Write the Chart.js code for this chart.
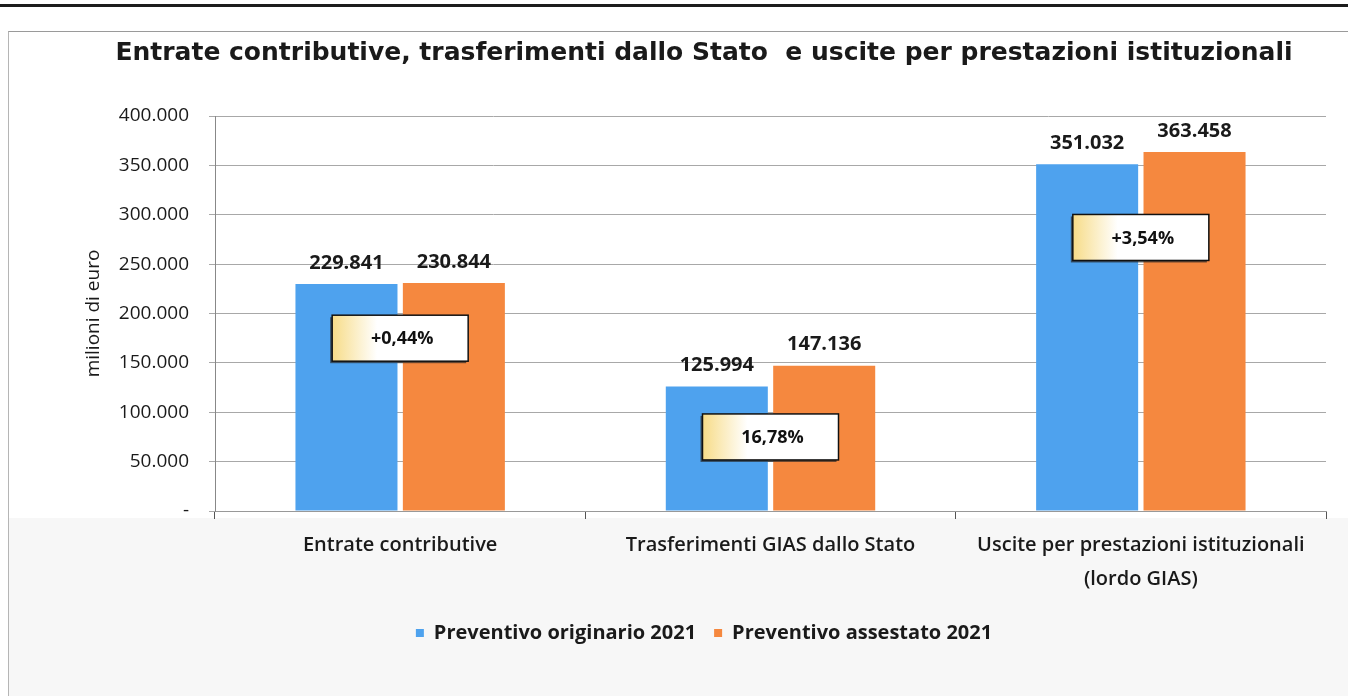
<!DOCTYPE html>
<html lang="it">
<head>
<meta charset="utf-8">
<title>Entrate contributive, trasferimenti dallo Stato e uscite per prestazioni istituzionali</title>
<script src="https://cdn.jsdelivr.net/npm/chart.js@4.4.1/dist/chart.umd.min.js"></script>
<style>
    html, body { margin: 0; padding: 0; background: #ffffff; }
    #wrap {
        position: relative;
        width: 1348px;
        height: 696px;
        overflow: hidden;
        border-top: 3px solid #1c1c1c;
        box-sizing: border-box;
        margin-top: 4px;
    }
    #frame {
        position: absolute;
        left: 8px; top: 24px; right: 0; bottom: 0;
        border-top: 1px solid #9a9a9a;
        border-left: 1px solid #b5b5b5;
        background: linear-gradient(#ffffff 0, #ffffff 486px, #f7f7f7 486px);
    }
    #chart { position: absolute; left: 0; top: -7px; }
</style>
</head>
<body>
<div id="wrap">
    <div id="frame"></div>
    <canvas id="chart" width="1348" height="696"></canvas>
</div>
<script>
// Dati (milioni di euro)
const categories = [
    'Entrate contributive',
    'Trasferimenti GIAS dallo Stato',
    ['Uscite per prestazioni istituzionali', '(lordo GIAS)']
];
const seriesNames = ['Preventivo originario 2021', 'Preventivo assestato 2021'];
const originario = [229841, 125994, 351032];
const assestato = [230844, 147136, 363458];
const variazioni = ['+0,44%', '16,78%', '+3,54%'];

const colors = ['#4ea2ee', '#f5883f'];
const fontSans = '"Open Sans", "Noto Sans", sans-serif';

function formatIt(v) {
    if (v === 0) return '-';
    return String(Math.round(v)).replace(/\B(?=(\d{3})+(?!\d))/g, '.');
}

// etichette sopra le barre
const valueLabels = {
    id: 'valueLabels',
    afterDatasetsDraw(chart) {
        const ctx = chart.ctx;
        ctx.save();
        ctx.font = 'bold 20px ' + fontSans;
        ctx.fillStyle = '#1a1a1a';
        ctx.textAlign = 'center';
        ctx.textBaseline = 'bottom';
        chart.data.datasets.forEach((ds, i) => {
            chart.getDatasetMeta(i).data.forEach((bar, j) => {
                ctx.fillText(formatIt(ds.data[j]), bar.x, bar.y - 11);
            });
        });
        ctx.restore();
    }
};

// riquadri con la variazione percentuale tra le due barre
const deltaBoxes = {
    id: 'deltaBoxes',
    afterDatasetsDraw(chart) {
        const ctx = chart.ctx;
        const yScale = chart.scales.y;
        const m0 = chart.getDatasetMeta(0).data;
        const m1 = chart.getDatasetMeta(1).data;
        // livello (in valori dell'asse) a cui il riquadro è centrato
        const anchor = [175000, 75000, 277000];
        const w = 136, h = 46;
        ctx.save();
        variazioni.forEach((txt, i) => {
            const cx = (m0[i].x + m1[i].x) / 2;
            const cy = yScale.getPixelForValue(anchor[i]);
            const x = cx - w / 2, y = cy - h / 2;
            ctx.fillStyle = 'rgba(40,40,40,0.7)';
            ctx.fillRect(x - 2, y + 2, w, h);
            const g = ctx.createLinearGradient(x, 0, x + w, 0);
            g.addColorStop(0, '#f7dc88');
            g.addColorStop(0.33, '#ffffff');
            g.addColorStop(1, '#ffffff');
            ctx.fillStyle = g;
            ctx.fillRect(x, y, w, h);
            ctx.strokeStyle = '#111';
            ctx.lineWidth = 1.5;
            ctx.strokeRect(x, y, w, h);
            ctx.font = 'bold 18px ' + fontSans;
            ctx.fillStyle = '#111';
            ctx.textAlign = 'center';
            ctx.textBaseline = 'middle';
            ctx.fillText(txt, cx + 2, cy + 1);
        });
        ctx.restore();
    }
};

new Chart(document.getElementById('chart'), {
    type: 'bar',
    data: {
        labels: categories,
        datasets: [
            {
                label: seriesNames[0],
                data: originario,
                backgroundColor: colors[0],
                categoryPercentage: 0.58,
                barPercentage: 0.95
            },
            {
                label: seriesNames[1],
                data: assestato,
                backgroundColor: colors[1],
                categoryPercentage: 0.58,
                barPercentage: 0.95
            }
        ]
    },
    options: {
        responsive: false,
        animation: false,
        layout: {
            padding: { left: 82, right: 22, top: 37, bottom: 43 }
        },
        plugins: {
            title: {
                display: true,
                text: 'Entrate contributive, trasferimenti dallo Stato  e uscite per prestazioni istituzionali',
                color: '#1a1a1a',
                font: { family: '"DejaVu Sans", Verdana, sans-serif', size: 25, weight: 'bold' },
                padding: { top: 1, bottom: 48 }
            },
            legend: {
                position: 'bottom',
                labels: {
                    boxWidth: 8,
                    boxHeight: 8,
                    padding: 18,
                    color: '#1a1a1a',
                    font: { family: fontSans, size: 20, weight: 'bold' }
                }
            },
            tooltip: { enabled: false }
        },
        scales: {
            x: {
                grid: {
                    display: true,
                    drawOnChartArea: false,
                    tickLength: 8,
                    color: '#555'
                },
                border: { color: '#999' },
                ticks: {
                    color: '#1a1a1a',
                    padding: 9,
                    font: { family: fontSans, size: 20, weight: '600', lineHeight: 1.7 }
                }
            },
            y: {
                min: 0,
                max: 400000,
                afterFit: scale => { scale.width = 133; },
                ticks: {
                    stepSize: 50000,
                    color: '#1a1a1a',
                    padding: 20,
                    font: { family: fontSans, size: 19 },
                    callback: v => formatIt(v)
                },
                grid: { color: '#a8a8a8', tickLength: 6 },
                border: { color: '#888' },
                title: {
                    display: true,
                    text: 'milioni di euro',
                    color: '#1a1a1a',
                    padding: { top: 0, bottom: 0 },
                    font: { family: fontSans, size: 19 }
                }
            }
        }
    },
    plugins: [valueLabels, deltaBoxes]
});
</script>
</body>
</html>
